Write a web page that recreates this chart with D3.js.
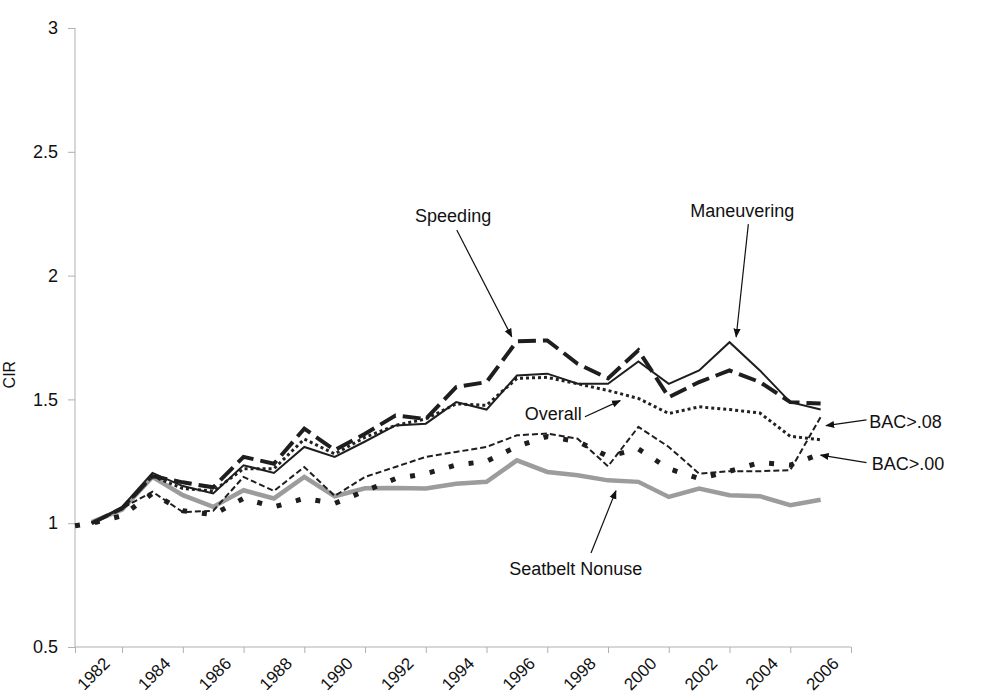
<!DOCTYPE html>
<html>
<head>
<meta charset="utf-8">
<script src="https://cdn.jsdelivr.net/npm/d3@7"></script>
<style>
  body { margin: 0; background: #fff; }
  text { font-family: Arial, "Liberation Sans", sans-serif; fill: #111; }
</style>
</head>
<body>
<svg id="chart" width="987" height="696"></svg>
<script>
// ---- data ----
const years = [1982, 1983, 1984, 1985, 1986, 1987, 1988, 1989, 1990, 1991, 1992, 1993,
  1994, 1995, 1996, 1997, 1998, 1999, 2000, 2001, 2002, 2003, 2004, 2005, 2006];

const maneuvering = [1.00, 1.066, 1.203, 1.15, 1.12, 1.234, 1.203, 1.308, 1.268, 1.33, 1.395, 1.402,
  1.489, 1.459, 1.597, 1.604, 1.563, 1.563, 1.653, 1.563, 1.617, 1.731, 1.617, 1.489, 1.459];
const speeding = [1.00, 1.06, 1.19, 1.165, 1.145, 1.268, 1.24, 1.382, 1.295, 1.361, 1.435, 1.421,
  1.55, 1.57, 1.735, 1.738, 1.644, 1.585, 1.698, 1.509, 1.57, 1.617, 1.57, 1.489, 1.483];
const overall = [1.00, 1.06, 1.19, 1.14, 1.13, 1.22, 1.22, 1.34, 1.28, 1.347, 1.395, 1.421,
  1.482, 1.476, 1.585, 1.589, 1.563, 1.536, 1.504, 1.443, 1.47, 1.459, 1.445, 1.351, 1.337];
const bac08 = [1.00, 1.06, 1.127, 1.045, 1.05, 1.187, 1.13, 1.227, 1.11, 1.187, 1.227, 1.268,
  1.288, 1.308, 1.355, 1.362, 1.341, 1.23, 1.389, 1.308, 1.20, 1.21, 1.21, 1.214, 1.429];
const bac00 = [1.00, 1.03, 1.12, 1.05, 1.035, 1.10, 1.066, 1.10, 1.08, 1.13, 1.18, 1.20,
  1.235, 1.25, 1.31, 1.35, 1.33, 1.27, 1.30, 1.22, 1.18, 1.21, 1.245, 1.235, 1.28];
const bac00Start = 0.99; // BAC>.00 line begins at the y axis
const seatbelt = [1.005, 1.055, 1.187, 1.113, 1.066, 1.133, 1.10, 1.187, 1.109, 1.141, 1.142, 1.14,
  1.159, 1.167, 1.254, 1.207, 1.194, 1.173, 1.167, 1.106, 1.14, 1.113, 1.109, 1.073, 1.095];

const yTicks = [0.5, 1, 1.5, 2, 2.5, 3];
const xLabelYears = [1982, 1984, 1986, 1988, 1990, 1992, 1994, 1996, 1998, 2000, 2002, 2004, 2006];
const xTickYears = [1983, 1985, 1987, 1989, 1991, 1993, 1995, 1997, 1999, 2001, 2003, 2005, 2007];

// callouts, in data units: text anchor + arrow from/to
const callouts = [
  {text: 'Speeding', tx: 1993.9, ty: 2.216, anchor: 'middle', from: [1994.02, 2.184], to: [1995.83, 1.753]},
  {text: 'Maneuvering', tx: 2003.42, ty: 2.237, anchor: 'middle', from: [2003.62, 2.208], to: [2003.22, 1.753]},
  {text: 'Overall', tx: 1997.2, ty: 1.417, anchor: 'middle', from: [1998.24, 1.43], to: [1999.4, 1.495]},
  {text: 'BAC>.08', tx: 2007.6, ty: 1.383, anchor: 'start', from: [2007.51, 1.417], to: [2006.18, 1.394]},
  {text: 'BAC>.00', tx: 2007.68, ty: 1.215, anchor: 'start', from: [2007.51, 1.245], to: [2006.0, 1.275]},
  {text: 'Seatbelt Nonuse', tx: 1997.94, ty: 0.79, anchor: 'middle', from: [1998.44, 0.88], to: [1999.26, 1.131]}
];

// ---- scales ----
const x = d3.scaleLinear().domain([1981.45, 2007]).range([75, 851]);
const y = d3.scaleLinear().domain([0.5, 3]).range([647, 28]);

const svg = d3.select('#chart');

svg.append('defs').append('marker')
    .attr('id', 'arrow')
    .attr('viewBox', '0 0 10 10')
    .attr('refX', 9).attr('refY', 5)
    .attr('markerWidth', 9).attr('markerHeight', 9)
    .attr('markerUnits', 'userSpaceOnUse')
    .attr('orient', 'auto')
  .append('path')
    .attr('d', 'M0,1L10,5L0,9Z')
    .attr('fill', '#111');

// ---- axes ----
const axisColor = '#b0b0b0';
const yAxis = d3.axisLeft(y).tickValues(yTicks).tickSize(7).tickPadding(10)
    .tickFormat(d3.format('~g'));
const gy = svg.append('g')
    .attr('transform', 'translate(' + x.range()[0] + ',0)')
    .call(yAxis);
gy.select('.domain').attr('stroke', axisColor).attr('d', 'M0,' + y(0.5) + 'V' + y(3));
gy.selectAll('.tick line').attr('stroke', axisColor);
gy.selectAll('.tick text').attr('font-size', 18).attr('fill', '#111')
    .style('font-family', 'Arial, "Liberation Sans", sans-serif');

const xAxis = d3.axisBottom(x).tickValues([x.domain()[0]].concat(xTickYears))
    .tickSize(6).tickFormat('');
const gx = svg.append('g')
    .attr('transform', 'translate(0,' + y(0.5) + ')')
    .call(xAxis);
gx.select('.domain').attr('stroke', axisColor).attr('d', 'M' + x.range()[0] + ',0H' + x.range()[1]);
gx.selectAll('.tick line').attr('stroke', axisColor);

svg.append('g').selectAll('text')
    .data(xLabelYears)
  .enter().append('text')
    .attr('transform', d => 'translate(' + (x(d) + 2) + ',' + (y(0.5) + 27) + ') rotate(-45)')
    .attr('text-anchor', 'middle')
    .attr('dominant-baseline', 'central')
    .attr('font-size', 17)
    .text(d => d);

svg.append('text')
    .attr('transform', 'translate(9,' + y(1.6) + ') rotate(-90)')
    .attr('text-anchor', 'middle')
    .attr('dominant-baseline', 'central')
    .attr('font-size', 16)
    .text('CIR');

// ---- lines ----
const line = d3.line().x(d => x(d[0])).y(d => y(d[1]));
const pair = vals => years.map((yr, i) => [yr, vals[i]]);

const series = [
  {values: pair(seatbelt), stroke: '#9c9c9c', width: 4.5, dash: null},
  {values: [[x.domain()[0], bac00Start]].concat(pair(bac00)), stroke: '#1e1e1e', width: 5, dash: '5,15'},
  {values: pair(bac08), stroke: '#1e1e1e', width: 2, dash: '6,3'},
  {values: pair(overall), stroke: '#222', width: 3, dash: '3,3'},
  {values: pair(maneuvering), stroke: '#1e1e1e', width: 2, dash: null},
  {values: pair(speeding), stroke: '#1e1e1e', width: 4, dash: '18,7'}
];

svg.append('g').selectAll('path')
    .data(series)
  .enter().append('path')
    .attr('d', d => line(d.values))
    .attr('fill', 'none')
    .attr('stroke', d => d.stroke)
    .attr('stroke-width', d => d.width)
    .attr('stroke-dasharray', d => d.dash)
    .attr('stroke-linejoin', 'miter');

// ---- callouts ----
const cg = svg.append('g');
cg.selectAll('line')
    .data(callouts)
  .enter().append('line')
    .attr('x1', d => x(d.from[0])).attr('y1', d => y(d.from[1]))
    .attr('x2', d => x(d.to[0])).attr('y2', d => y(d.to[1]))
    .attr('stroke', '#111')
    .attr('stroke-width', 1.2)
    .attr('marker-end', 'url(#arrow)');
cg.selectAll('text')
    .data(callouts)
  .enter().append('text')
    .attr('x', d => x(d.tx)).attr('y', d => y(d.ty))
    .attr('text-anchor', d => d.anchor)
    .attr('font-size', 18)
    .text(d => d.text);
</script>
</body>
</html>
